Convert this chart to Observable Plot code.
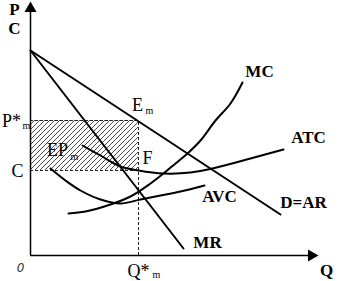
<!DOCTYPE html>
<html><head><meta charset="utf-8">
<script src="https://cdn.jsdelivr.net/npm/d3@7"></script>
<script src="https://cdn.jsdelivr.net/npm/@observablehq/plot@0.6"></script>
<style>body{margin:0;background:#fff} svg{display:block}</style>
</head><body><div id="chart"></div>
<script>
// Curves (Q, P in chart units)
const demand = [{q:0,p:205},{q:250,p:41}];
const mr = [{q:0,p:205},{q:153,p:7}];
const atc = [{q:52,p:110},{q:70,p:100},{q:90,p:89},{q:108,p:85},{q:133,p:82},{q:160,p:83},{q:190,p:89},{q:220,p:97},{q:253,p:106}];
const mc = [{q:38,p:42},{q:55,p:44},{q:80,p:51},{q:100,p:59},{q:120,p:72},{q:133,p:82},{q:145,p:92},{q:157,p:102},{q:170,p:115},{q:185,p:135},{q:200,p:152},{q:212,p:173}];
const avc = [{q:20,p:87},{q:35,p:75},{q:50,p:65},{q:70,p:56},{q:90,p:52},{q:110,p:56},{q:130,p:60},{q:150,p:64},{q:174,p:70}];
const qStar = 108, pStar = 135, cost = 85;
const qMax = 285, pMax = 251;

const boldLabels = [
  {q:-16,p:246,t:"P"},{q:-16,p:227,t:"C"},
  {q:229,p:184,t:"MC"},{q:278,p:118,t:"ATC"},{q:189,p:59,t:"AVC"},
  {q:273,p:53,t:"D=AR"},{q:177,p:13,t:"MR"},{q:296,p:-15,t:"Q"}
];
const mainLabels = [
  {q:-19,p:134,t:"P*"},{q:-13,p:84,t:"C"},{q:107,p:150,t:"E"},
  {q:27,p:105,t:"EP"},{q:117,p:97,t:"F"},{q:108,p:-16,t:"Q*"}
];
const subLabels = [
  {q:-4,p:130,t:"m"},{q:119,p:145,t:"m"},{q:44,p:99,t:"m"},{q:126,p:-19,t:"m"}
];

const chart = Plot.plot({
  width: 344, height: 281,
  marginLeft: 30, marginRight: 29, marginTop: 4, marginBottom: 26,
  x: {domain: [0, qMax], axis: null},
  y: {domain: [0, pMax], axis: null},
  style: {fontFamily: "Liberation Serif, Times New Roman, serif", background: "white", overflow: "visible"},
  marks: [
    Plot.rect([{x1:0,x2:qStar,y1:cost,y2:pStar}], {x1:"x1",x2:"x2",y1:"y1",y2:"y2", fill:"url(#hatch)"}),
    Plot.ruleY([pStar], {x1:0, x2:qStar, stroke:"#222", strokeWidth:1, strokeDasharray:"3,2"}),
    Plot.ruleY([cost], {x1:0, x2:qStar, stroke:"#222", strokeWidth:1, strokeDasharray:"3,2"}),
    Plot.ruleX([qStar], {y1:0, y2:pStar, stroke:"#222", strokeWidth:1, strokeDasharray:"3,2"}),
    Plot.line(demand, {x:"q", y:"p", stroke:"black", strokeWidth:2}),
    Plot.line(mr, {x:"q", y:"p", stroke:"black", strokeWidth:2}),
    Plot.line(atc, {x:"q", y:"p", stroke:"black", strokeWidth:2, curve:"catmull-rom"}),
    Plot.line(mc, {x:"q", y:"p", stroke:"black", strokeWidth:2, curve:"catmull-rom"}),
    Plot.line(avc, {x:"q", y:"p", stroke:"black", strokeWidth:2, curve:"catmull-rom"}),
    Plot.ruleX([0], {y1:0, y2:pMax-7, stroke:"black", strokeWidth:1.5}),
    Plot.ruleY([0], {x1:0, x2:qMax-7, stroke:"black", strokeWidth:1.5}),
    Plot.dot([{q:0,p:pMax-4}], {x:"q", y:"p", symbol:"triangle", r:4.5, fill:"black", stroke:null}),
    Plot.dot([{q:qMax-4,p:0}], {x:"q", y:"p", symbol:"triangle", r:4.5, fill:"black", stroke:null, rotate:90}),
    Plot.text(boldLabels, {x:"q", y:"p", text:"t", fontSize:17, fontWeight:"bold", fill:"black", lineAnchor:"middle"}),
    Plot.text(mainLabels, {x:"q", y:"p", text:"t", fontSize:18, fill:"black", lineAnchor:"middle"}),
    Plot.text(subLabels, {x:"q", y:"p", text:"t", fontSize:10, fill:"black", lineAnchor:"middle"}),
    Plot.text([{q:-10,p:-13,t:"0"}], {x:"q", y:"p", text:"t", fontSize:12, fontStyle:"italic", fontFamily:"DejaVu Sans", fontWeight:"200", fill:"#333", lineAnchor:"middle"})
  ]
});

const defs = d3.select(chart).insert("defs", ":first-child");
const pat = defs.append("pattern").attr("id","hatch").attr("patternUnits","userSpaceOnUse")
  .attr("width",5).attr("height",5);
pat.append("rect").attr("width",5).attr("height",5).attr("fill","white");
pat.append("path").attr("d","M-1,6 L6,-1 M-1,1 L1,-1 M4,6 L6,4").attr("stroke","#333").attr("stroke-width",0.9);
document.getElementById("chart").appendChild(chart);
</script>
</body></html>
